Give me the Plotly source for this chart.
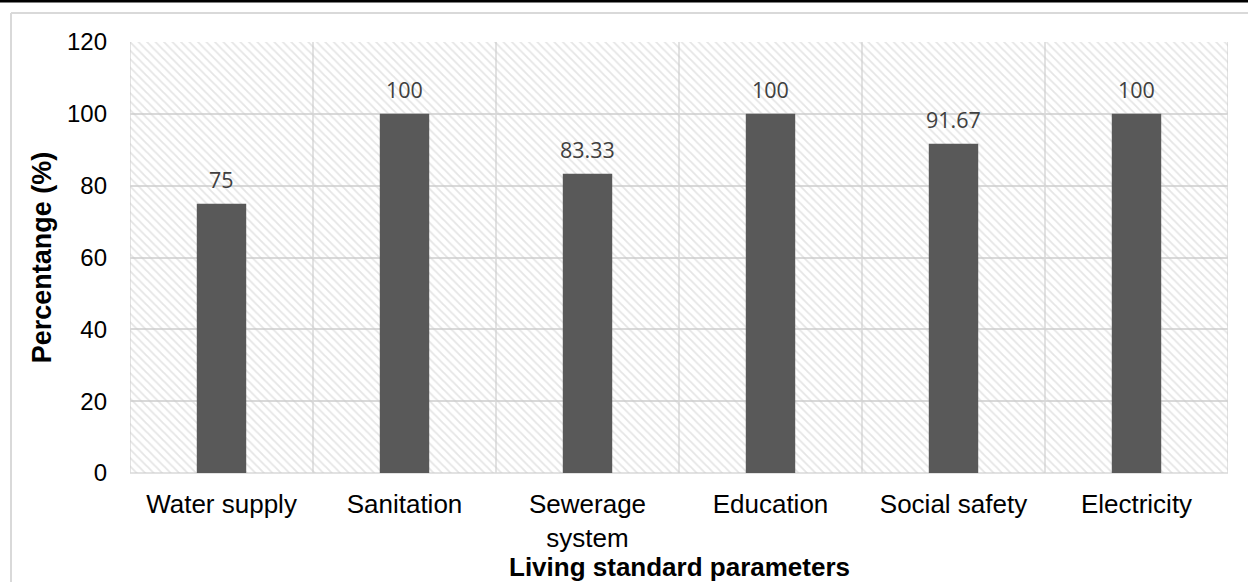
import plotly.graph_objects as go

# Living standard indicators (%)
categories = ["Water supply", "Sanitation", "Sewerage<br>system", "Education", "Social safety", "Electricity"]
percentages = [75, 100, 83.33, 100, 91.67, 100]
value_labels = ["75", "100", "83.33", "100", "91.67", "100"]
y_ticks = [0, 20, 40, 60, 80, 100, 120]

Y_MAX = 120
W, H = 1248, 582
M_L, M_R, M_T, M_B = 130, 20, 42, 109

fig = go.Figure()

# hatched plot-area background, one full-width band per category
fig.add_trace(go.Bar(
    x=categories, y=[Y_MAX] * len(categories), width=1,
    marker=dict(color="rgba(0,0,0,0)", line=dict(width=0),
                pattern=dict(shape="\\", size=6, solidity=0.3,
                             fgcolor="#cccccc", bgcolor="rgba(0,0,0,0)")),
    hoverinfo="skip", showlegend=False,
))

fig.add_trace(go.Bar(
    x=categories, y=percentages, width=0.27,
    marker=dict(color="#595959", line=dict(width=0)),
    showlegend=False,
))

for c, v, t in zip(categories, percentages, value_labels):
    fig.add_annotation(x=c, y=v, text=t, showarrow=False, yshift=24,
                       font=dict(family="Open Sans", size=21.5, color="#404040"))

pw = W - M_L - M_R
ph = H - M_T - M_B

# x-axis title, placed below the wrapped category labels
fig.add_annotation(xref="paper", yref="paper", x=0.5, y=-(567 - (H - M_B)) / ph,
                   yanchor="middle", showarrow=False,
                   text="<b>Living standard parameters</b>",
                   font=dict(size=26, color="#000000"))

# chart frame (left and top edges) and the dark rule along the top
fx0 = (11 - M_L) / pw
fy1 = (H - M_B - 13) / ph
fig.add_shape(type="line", xref="paper", yref="paper", x0=fx0, x1=fx0, y0=-2, y1=fy1,
              line=dict(color="#d9d9d9", width=2), layer="below")
fig.add_shape(type="line", xref="paper", yref="paper", x0=fx0, x1=2, y0=fy1, y1=fy1,
              line=dict(color="#d9d9d9", width=2), layer="below")
ftop = (H - M_B - 1) / ph
fig.add_shape(type="line", xref="paper", yref="paper", x0=-1, x1=2, y0=ftop, y1=ftop,
              line=dict(color="#000000", width=3))

fig.update_layout(
    width=W, height=H,
    margin=dict(l=M_L, r=M_R, t=M_T, b=M_B),
    barmode="overlay",
    paper_bgcolor="white", plot_bgcolor="white",
    font=dict(family="Liberation Sans, Arial", size=24, color="#000000"),
    xaxis=dict(
        automargin=False,
        showgrid=False, zeroline=False, showline=False, ticks="",
        tickfont=dict(size=26, color="#000000"),
        range=[-0.5, len(categories) - 0.5],
        ticklabelstandoff=13,
    ),
    yaxis=dict(
        automargin=False,
        range=[0, Y_MAX], tickvals=y_ticks, showgrid=True,
        gridcolor="#d9d9d9", gridwidth=1.5, zeroline=False,
        showline=False, ticks="", ticklabelstandoff=22,
        tickfont=dict(size=24, color="#000000"),
        title=dict(text="<b>Percentange (%)</b>", standoff=7,
                   font=dict(size=27, color="#000000")),
    ),
)

# vertical grid at category boundaries
for i in range(len(categories) + 1):
    fig.add_shape(type="line", xref="x", yref="paper", x0=i - 0.5, x1=i - 0.5, y0=0, y1=1,
                  line=dict(color="#d9d9d9", width=1.5), layer="below")
fig.add_shape(type="line", xref="paper", yref="paper", x0=0, x1=1, y0=0, y1=0,
              line=dict(color="#d9d9d9", width=1.5), layer="below")

fig.write_html("out.html")
